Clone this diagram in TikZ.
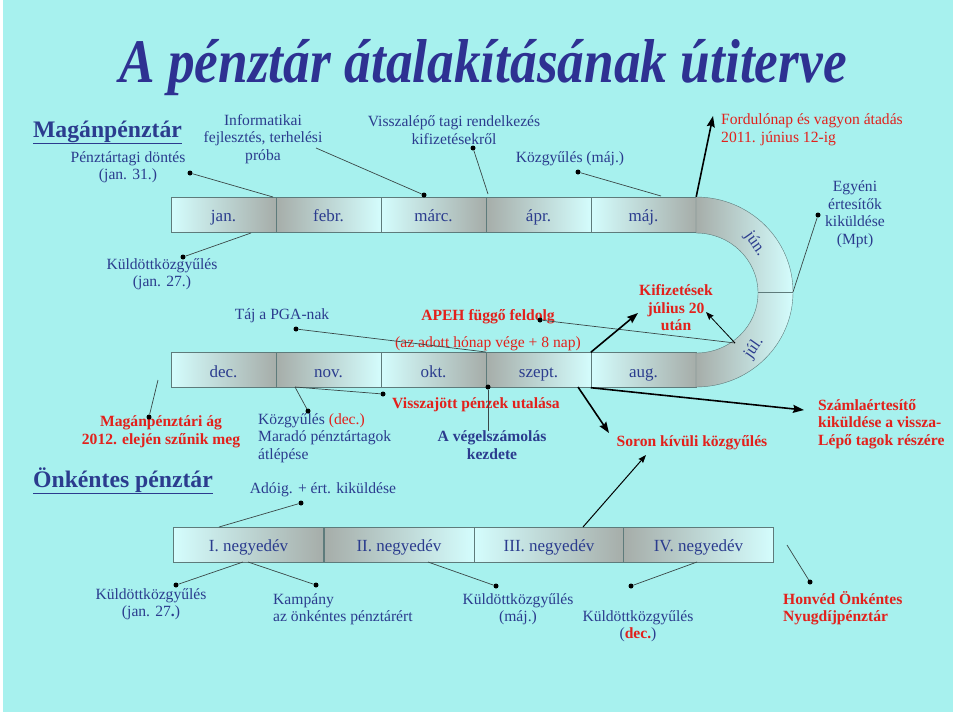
\documentclass[tikz,border=0pt]{standalone}
\usepackage{fontspec}
\setmainfont{Liberation Serif}
\usepackage{graphicx}
\usetikzlibrary{arrows.meta}
\definecolor{bgcyan}{HTML}{A7F1EE}
\definecolor{navy}{HTML}{2B3C8E}
\definecolor{titleblue}{HTML}{2E3192}
\definecolor{alert}{HTML}{E2211C}
\definecolor{celllight}{HTML}{D4FDFD}
\definecolor{cellgray}{HTML}{A6ADA9}
\definecolor{cellline}{HTML}{5E7B7B}
\definecolor{pinline}{HTML}{3A4747}

\begin{document}
\begin{tikzpicture}[x=1pt,y=-1pt,
  font=\fontsize{15.6}{17.5}\selectfont,
  txt/.style={text=navy,align=center,inner sep=0pt},
  hot/.style={text=alert,align=center,inner sep=0pt,font=\fontsize{15.6}{17.5}\selectfont\bfseries},
  heading/.style={text=navy,inner sep=0pt,anchor=base,font=\fontsize{23.7}{26}\selectfont\bfseries},
  cellA/.style={draw=cellline,left color=celllight,right color=cellgray,minimum width=105pt,minimum height=35pt,
    text=navy,inner sep=0pt,text height=14pt,text depth=0pt,font=\fontsize{17}{20}\selectfont},
  cellB/.style={cellA,left color=cellgray,right color=celllight},
  qA/.style={cellA,minimum width=150pt},
  qB/.style={cellB,minimum width=150pt},
  dot/.style={circle,fill=black,inner sep=0pt,minimum size=5pt},
  pin/.style={draw=pinline,line width=0.7pt},
  bigarr/.style={-{Stealth[length=11pt,width=8pt,inset=1.5pt]},line width=1.6pt,black},
  thinarr/.style={-{Stealth[length=8pt,width=6pt,inset=1pt]},line width=0.8pt,black}
]
\useasboundingbox (0,0) rectangle (960,716);
\fill[white] (0,0) rectangle (960,716);
\fill[bgcyan] (3,0) rectangle (953,712);

% title
\node[text=titleblue,anchor=base,inner sep=0pt,font=\fontsize{62}{62}\selectfont\bfseries\itshape] (title) at (483,82)
  {\scalebox{0.86}[1]{A pénztár átalakításának útiterve}};

% top bar
\node[cellA] (jan)  at (223.5,214.5) {jan.};
\node[cellB] (febr) at (328.5,214.5) {febr.};
\node[cellA] (marc) at (433.5,214.5) {márc.};
\node[cellB] (apr)  at (538.5,214.5) {ápr.};
\node[cellA] (maj)  at (643.5,214.5) {máj.};
% bottom bar
\node[cellA] (dec)   at (223.5,370) {dec.};
\node[cellB] (nov)   at (328.5,370) {nov.};
\node[cellA] (okt)   at (433.5,370) {okt.};
\node[cellB] (szept) at (538.5,370) {szept.};
\node[cellA] (aug)   at (643.5,370) {aug.};
% bend
\path[draw=cellline,left color=cellgray,right color=celllight]
  (696,197) arc[start angle=90,end angle=-90,x radius=97pt,y radius=95pt]
  -- (696,353) arc[start angle=-90,end angle=90,x radius=62pt,y radius=60pt] -- cycle;
\draw[cellline] (758,292) -- (793,292);
\node[txt,rotate=-55,font=\fontsize{16.5}{20}\selectfont] (jun) at (755,244) {jún.};
\node[txt,rotate=55,font=\fontsize{16.5}{20}\selectfont] (jul) at (754,348) {júl.};

% quarter bar
\node[qA,text height=13pt] (q1) at (248.5,544.5) {I. negyedév};
\node[qB,text height=13pt] (q2) at (399,544.5) {II. negyedév};
\node[qA,text height=13pt] (q3) at (549,544.5) {III. negyedév};
\node[qB,text height=13pt] (q4) at (698.5,544.5) {IV. negyedév};

% headings
\node[heading] (magan) at (107.5,137) {\underline{Magánpénztár}};
\node[heading] (onk) at (123,487) {\underline{Önkéntes pénztár}};

% labels
\node[txt] (ptd) at (128,167) {Pénztártagi döntés\\(jan. 31.)};
\node[txt] (info) at (263,139) {Informatikai\\fejlesztés, terhelési\\próba};
\node[txt] (vissza) at (454,130) {Visszalépő tagi rendelkezés\\kifizetésekről};
\node[txt] (kozgy) at (570,159) {Közgyűlés (máj.)};
\node[txt,text=alert,align=left,anchor=west] (ford) at (721,130) {Fordulónap és vagyon átadás\\2011. június 12-ig};
\node[txt] (egyeni) at (855,214) {Egyéni\\értesítők\\kiküldése\\(Mpt)};
\node[txt] (kuld1) at (162,274) {Küldöttközgyűlés\\(jan. 27.)};
\node[txt] (taj) at (282,316) {Táj a PGA-nak};
\node[hot] (apeh) at (488,317) {APEH függő feldolg};
\node[txt,text=alert] (hatarido) at (488,344) {(az adott hónap vége + 8 nap)};
\node[hot] (kifiz) at (676,308) {Kifizetések\\július 20\\után};
\node[hot] (agvege) at (161,432) {Magánpénztári ág\\2012. elején szűnik meg};
\node[txt,align=left,anchor=west] (kozdec) at (258,438) {Közgyűlés \textcolor{alert}{(dec.)}\\Maradó pénztártagok\\átlépése};
\node[hot] (visszajott) at (476,405) {Visszajött pénzek utalása};
\node[hot,text=navy] (vegel) at (492,445) {A végelszámolás\\kezdete};
\node[hot] (soron) at (692,443) {Soron kívüli közgyűlés};
\node[hot,align=left,anchor=west] (szamla) at (818,424) {Számlaértesítő\\kiküldése a vissza-\\Lépő tagok részére};
\node[txt] (adoig) at (323,490) {Adóig. + ért. kiküldése};
\node[txt] (kuld2) at (151,604) {Küldöttközgyűlés\\(jan. 27\textbf{.})};
\node[txt,align=left,anchor=west] (kampany) at (273,609) {Kampány\\az önkéntes pénztárért};
\node[txt] (kuld3) at (518,609) {Küldöttközgyűlés\\(máj.)};
\node[txt] (kuld4) at (638,626) {Küldöttközgyűlés\\(\textcolor{alert}{\textbf{dec.}})};
\node[hot,align=left,anchor=west] (honved) at (783,608) {Honvéd Önkéntes\\Nyugdíjpénztár};

% pins
\node[dot] (d-ptd) at (190,173) {};
\coordinate (c-ptd) at (273,197);
\draw[pin] (d-ptd) -- (c-ptd);
\node[dot] (d-info) at (424,195) {};
\coordinate (c-info) at (316,148);
\draw[pin] (c-info) -- (d-info);
\node[dot] (d-vissza) at (473,148) {};
\coordinate (c-vissza) at (488,194);
\draw[pin] (d-vissza) -- (c-vissza);
\node[dot] (d-kozgy) at (578,172) {};
\coordinate (c-kozgy) at (661,196);
\draw[pin] (d-kozgy) -- (c-kozgy);
\node[dot] (d-egyeni) at (818,215) {};
\coordinate (c-egyeni) at (793,292);
\draw[pin] (d-egyeni) -- (c-egyeni);
\node[dot] (d-kuld1) at (183,257) {};
\coordinate (c-kuld1) at (251,233);
\draw[pin] (d-kuld1) -- (c-kuld1);
\node[dot] (d-taj) at (296,329) {};
\coordinate (c-taj) at (486,352);
\draw[pin] (d-taj) -- (c-taj);
\node[dot] (d-apeh) at (540,320) {};
\coordinate (c-jul) at (735,343);
\draw[pin] (d-apeh) -- (c-jul);
\node[dot] (d-agvege) at (149,417) {};
\coordinate (c-agvege) at (158,380);
\draw[pin] (d-agvege) -- (c-agvege);
\coordinate (c-nov) at (295,387);
\node[dot] (d-kozdec) at (308,411) {};
\draw[pin] (c-nov) -- (d-kozdec);
\node[dot] (d-visszajott) at (383,394) {};
\draw[pin] (c-nov) -- (d-visszajott);
\node[dot] (d-vegel) at (488,387) {};
\draw[pin] (d-vegel) -- (vegel.north -| d-vegel);
\node[dot] (d-adoig) at (301,503) {};
\coordinate (c-adoig) at (219,527);
\draw[pin] (d-adoig) -- (c-adoig);
\node[dot] (d-kuld2) at (176,585) {};
\coordinate (c-kuld2) at (243,562);
\draw[pin] (d-kuld2) -- (c-kuld2);
\node[dot] (d-kampany) at (316,585) {};
\coordinate (c-kampany) at (248,562);
\draw[pin] (d-kampany) -- (c-kampany);
\node[dot] (d-kuld3) at (496,586) {};
\coordinate (c-kuld3) at (428,562);
\draw[pin] (d-kuld3) -- (c-kuld3);
\node[dot] (d-kuld4) at (631,586) {};
\coordinate (c-kuld4) at (697,562);
\draw[pin] (d-kuld4) -- (c-kuld4);
\node[dot] (d-honved) at (810,582) {};
\coordinate (c-honved) at (787,545);
\draw[pin] (d-honved) -- (c-honved);

% arrows
\coordinate (t-ford) at (713,116);
\draw[bigarr] (maj.north east) -- (t-ford);
\coordinate (t-kifiz) at (638,313);
\draw[bigarr] (aug.north west) -- (t-kifiz);
\coordinate (t-kifiz2) at (706,312);
\draw[thinarr] (c-jul) -- (t-kifiz2);
\coordinate (c-szept) at (578,387);
\coordinate (t-soron) at (609,433);
\draw[bigarr] (c-szept) -- (t-soron);
\coordinate (t-szamla) at (804,410);
\draw[bigarr] (aug.south west) -- (t-szamla);
\coordinate (c-q3) at (583,527);
\coordinate (t-soron2) at (646,455);
\draw[thinarr,line width=1pt] (c-q3) -- (t-soron2);
\end{tikzpicture}
\end{document}
